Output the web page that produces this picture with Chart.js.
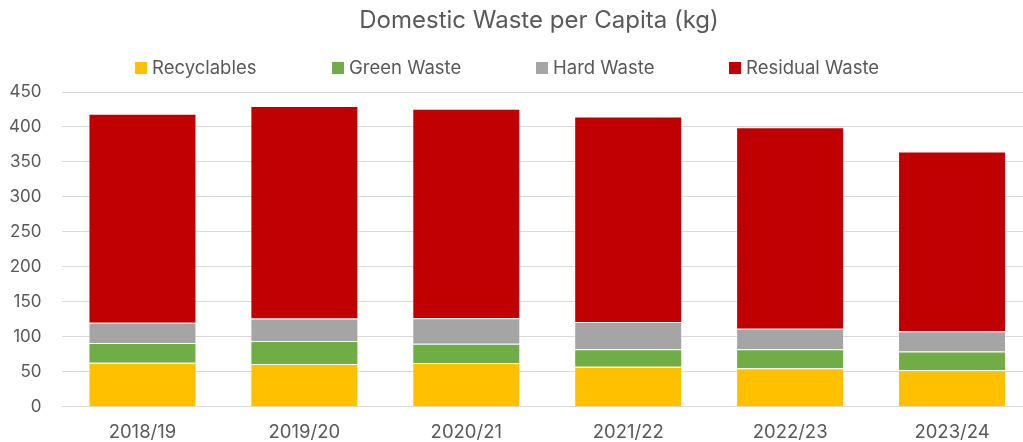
<!DOCTYPE html>
<html>
<head>
<meta charset="utf-8">
<script src="https://cdn.jsdelivr.net/npm/chart.js@4"></script>
<style>
    html, body { margin: 0; padding: 0; background: #fff; overflow: hidden; }
    #wrap { position: absolute; left: 0; top: 0; width: 1078px; height: 442px; }
</style>
</head>
<body>
<div id="wrap"><canvas id="wasteChart"></canvas></div>
<script>
const years = ['2018/19', '2019/20', '2020/21', '2021/22', '2022/23', '2023/24'];
const recyclables = [63, 61, 62.5, 57, 55, 52];
const greenWaste = [28, 33, 27.5, 25, 27, 27];
const hardWaste = [29, 32, 36.5, 39, 29.5, 29];
const residualWaste = [299, 304, 299.5, 294, 288, 257];

const textColor = '#595959';
Chart.defaults.font.family = 'Inter';

// legend drawn by hand so the item spacing matches the original
const legendRow = {
    id: 'legendRow',
    afterDraw(chart, args, opts) {
        const ctx = chart.ctx;
        ctx.save();
        ctx.font = '18.5px Inter';
        ctx.textBaseline = 'middle';
        ctx.textAlign = 'left';
        chart.data.datasets.forEach((ds, i) => {
            const x = opts.x[i];
            ctx.fillStyle = ds.backgroundColor;
            ctx.fillRect(x, opts.y - 6, 12, 12);
            ctx.fillStyle = textColor;
            ctx.fillText(ds.label, x + 17, opts.y);
        });
        ctx.restore();
    }
};

function bar(label, data, color) {
    return {
        label: label,
        data: data,
        backgroundColor: color,
        borderColor: 'rgba(255,255,255,0.4)',
        borderWidth: 1,
        barPercentage: 0.667,
        categoryPercentage: 1
    };
}

const ctx = document.getElementById('wasteChart').getContext('2d');
new Chart(ctx, {
    type: 'bar',
    data: {
        labels: years,
        datasets: [
            bar('Recyclables', recyclables, '#FFC000'),
            bar('Green Waste', greenWaste, '#70AD47'),
            bar('Hard Waste', hardWaste, '#A5A5A5'),
            bar('Residual Waste', residualWaste, '#C00000')
        ]
    },
    options: {
        responsive: true,
        maintainAspectRatio: false,
        animation: false,
        layout: { padding: 0 },
        plugins: {
            legend: { display: false },
            tooltip: { enabled: false },
            title: {
                display: true,
                text: 'Domestic Waste per Capita (kg)',
                color: textColor,
                font: { size: 24, weight: 'normal' },
                padding: { top: 6, bottom: 57.2 }
            },
            legendRow: { x: [135, 332, 536, 729], y: 68 }
        },
        scales: {
            x: {
                stacked: true,
                grid: { display: false, drawTicks: false },
                border: { display: false },
                ticks: { color: textColor, font: { size: 18.5 }, padding: 15 },
                afterFit(scale) { scale.height = 35.3; }
            },
            y: {
                stacked: true,
                min: 0,
                max: 450,
                ticks: { stepSize: 50, color: textColor, font: { size: 17 }, padding: 20 },
                grid: { color: '#D9D9D9', lineWidth: 1, drawTicks: false },
                border: { display: false },
                afterFit(scale) { scale.width = 61.5; }
            },
            yRight: {
                position: 'right',
                display: true,
                ticks: { display: false },
                grid: { display: false, drawTicks: false },
                border: { display: false },
                afterFit(scale) { scale.width = 45; }
            }
        }
    },
    plugins: [legendRow]
});
</script>
</body>
</html>
